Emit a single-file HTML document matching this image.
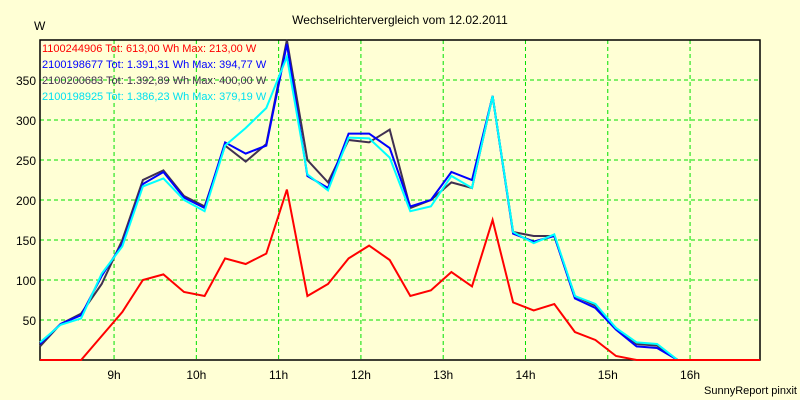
<!DOCTYPE html>
<html><head><meta charset="utf-8"><style>
body{margin:0;background:#ffffd5;}
svg{display:block;font-family:"Liberation Sans",sans-serif;}
</style></head><body>
<svg width="800" height="400">
<rect x="0" y="0" width="800" height="400" fill="#ffffd5"/>
<g id="grid"></g>
<g id="axes"></g>
<g id="series"></g>
<text x="400" y="24" text-anchor="middle" font-size="12" fill="#000">Wechselrichtervergleich vom 12.02.2011</text>
<text x="34" y="30" font-size="12" fill="#000">W</text>
<text x="797" y="394" text-anchor="end" font-size="11" fill="#000">SunnyReport pinxit</text>
<g id="legend"></g>
</svg>
<script>
const startHour = 8.1;
const stepHours = 0.25;
const yTicks = [50,100,150,200,250,300,350];
const xTicks = [9,10,11,12,13,14,15,16];
const xTickLabels = ["9h","10h","11h","12h","13h","14h","15h","16h"];
const redVals =  [0,0,0,30,60,100,107,85,80,127,120,133,213,80,95,127,143,125,80,87,110,92,175,72,62,70,35,25,5,0,0,0,0,0,0,0];
const blueVals = [20,45,56,105,145,220,235,203,190,272,258,268,395,230,215,283,283,265,192,200,235,225,330,158,148,155,77,65,38,17,15,0,0,0,0];
const darkVals = [17,45,58,95,150,225,237,205,192,268,248,270,400,250,222,275,272,288,190,200,222,215,330,160,155,155,80,68,40,20,18,0,0,0,0,0];
const cyanVals = [22,44,52,108,142,217,227,200,186,268,290,315,379,232,212,278,277,253,186,192,230,215,330,160,146,157,80,70,40,22,20,0,0,0,0];
const seriesNames = ["1100244906 Tot: 613,00 Wh Max: 213,00 W","2100198677 Tot: 1.391,31 Wh Max: 394,77 W","2100200683 Tot: 1.392,89 Wh Max: 400,00 W","2100198925 Tot: 1.386,23 Wh Max: 379,19 W"];

const L=40,R=760,T=40,B=360,yMax=400;
const xEnd = startHour + 35*stepHours;
function xs(h){return L+(h-startHour)/(xEnd-startHour)*(R-L);}
function ys(v){return B-v/yMax*(B-T);}
const NS="http://www.w3.org/2000/svg";
function mk(tag,parent,attrs){const e=document.createElementNS(NS,tag);for(const k in attrs)e.setAttribute(k,attrs[k]);parent.appendChild(e);return e;}
const grid=document.getElementById('grid'),axes=document.getElementById('axes'),ser=document.getElementById('series'),leg=document.getElementById('legend');
yTicks.forEach(v=>{
  const l=mk('line',grid,{x1:L,x2:R,y1:ys(v),y2:ys(v),stroke:'#00e000','stroke-dasharray':'4,3','stroke-width':1});
  
  
  const t=mk('text',axes,{x:36,y:ys(v)+5,'text-anchor':'end','font-size':12,fill:'#000'});
  t.textContent=v;
  
  
});
xTicks.forEach((h,i)=>{
  const l=mk('line',grid,{x1:xs(h),x2:xs(h),y1:T,y2:B,stroke:'#00e000','stroke-dasharray':'4,3','stroke-width':1});
  
  
  const t=mk('text',axes,{x:xs(h),y:379,'text-anchor':'middle','font-size':12,fill:'#000'});
  t.textContent=xTickLabels[i];
  
  
});
const frame=mk('rect',axes,{x:L,y:T,width:R-L,height:B-T,fill:'none',stroke:'#000','stroke-width':1.5});


function line(vals,color,name){
  const pts=vals.map((v,i)=>xs(startHour+i*stepHours).toFixed(1)+','+ys(v).toFixed(1)).join(' ');
  const p=mk('polyline',ser,{points:pts,fill:'none',stroke:color,'stroke-width':2,'stroke-linejoin':'miter'});
  
  
}
line(darkVals,'#403050','series-2100200683');
line(blueVals,'#0000ff','series-2100198677');
line(cyanVals,'#00ffff','series-2100198925');
line(redVals,'#ff0000','series-1100244906');
const legColors=['#ff0000','#0000ff','#403050','#00e0f0'];
seriesNames.forEach((n,i)=>{
  const t=mk('text',leg,{x:42,y:52+i*16,'font-size':11,fill:legColors[i]});
  t.textContent=n;
  
  
});
</script>
</body></html>
